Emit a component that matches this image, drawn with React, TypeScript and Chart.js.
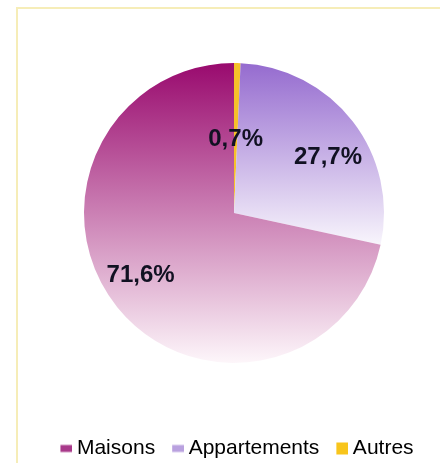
import React, { useEffect, useRef } from "react";
import { Chart, registerables } from "chart.js";

Chart.register(...registerables);

// Data (drawn clockwise from the top: Autres, Appartements, Maisons)
const categories = ["Autres", "Appartements", "Maisons"];
const values = [0.7, 27.7, 71.6];
const valueLabels = ["0,7%", "27,7%", "71,6%"];
const topColors = ["#f6c12a", "#956bcf", "#990a6e"];
const bottomColors = ["#f6c12a", "#f8f5fc", "#fdf6fa"];
const legendColors = ["#f8c51c", "#b9a1df", "#a8398a"];

const PIE_RADIUS = 150;

function sliceGradient(context: any) {
  const chart = context.chart;
  const i = context.dataIndex;
  const area = chart.chartArea;
  if (!area) return topColors[i];
  const cx = (area.left + area.right) / 2;
  const cy = (area.top + area.bottom) / 2;
  const total = values.reduce((a, b) => a + b, 0);
  let before = 0;
  for (let k = 0; k < i; k++) before += values[k];
  const a0 = -Math.PI / 2 + (before / total) * Math.PI * 2;
  const a1 = a0 + (values[i] / total) * Math.PI * 2;
  let ymin = cy;
  let ymax = cy;
  const steps = 360;
  for (let s = 0; s <= steps; s++) {
    const a = a0 + ((a1 - a0) * s) / steps;
    const y = cy + PIE_RADIUS * Math.sin(a);
    if (y < ymin) ymin = y;
    if (y > ymax) ymax = y;
  }
  const g = chart.ctx.createLinearGradient(0, ymin, 0, ymax);
  g.addColorStop(0, topColors[i]);
  g.addColorStop(1, bottomColors[i]);
  return g;
}

function markerImage(color: string, h: number) {
  const c = document.createElement("canvas");
  c.width = 24;
  c.height = 14;
  const x = c.getContext("2d")!;
  x.fillStyle = color;
  x.fillRect(12, (14 - h) / 2, 12, h);
  return c;
}

const valueLabelPlugin = {
  id: "valueLabels",
  afterDatasetsDraw(chart: any, _args: any, opts: any) {
    const meta = chart.getDatasetMeta(0);
    const ctx = chart.ctx;
    ctx.save();
    ctx.font = "bold 24px 'Liberation Sans', Arial, sans-serif";
    ctx.fillStyle = "#111122";
    ctx.textAlign = "center";
    ctx.textBaseline = "middle";
    meta.data.forEach((arc: any, i: number) => {
      const p = opts.placement[i];
      const mid = (arc.startAngle + arc.endAngle) / 2 + (p.rot * Math.PI) / 180;
      const d = arc.outerRadius * p.frac;
      ctx.fillText(valueLabels[i], arc.x + d * Math.cos(mid), arc.y + d * Math.sin(mid));
    });
    ctx.restore();
  },
};

export default function App() {
  const ref = useRef<HTMLCanvasElement>(null);
  useEffect(() => {
    if (!ref.current) return;
    const markers = [
      markerImage(legendColors[0], 12),
      markerImage(legendColors[1], 7),
      markerImage(legendColors[2], 7),
    ];
    const chart = new Chart(ref.current, {
      type: "pie",
      data: {
        labels: categories,
        datasets: [
          {
            data: values,
            backgroundColor: sliceGradient as any,
            borderWidth: 0,
            radius: PIE_RADIUS,
          } as any,
        ],
      },
      plugins: [valueLabelPlugin],
      options: {
        animation: false,
        responsive: false,
        maintainAspectRatio: false,
        layout: { padding: { top: 9, bottom: 1, left: 0, right: 0 } },
        plugins: {
          tooltip: { enabled: false },
          legend: {
            position: "bottom",
            reverse: true,
            labels: {
              usePointStyle: true,
              boxWidth: 12,
              padding: 11,
              color: "#1e1e24",
              font: { family: "'Liberation Sans', Arial, sans-serif", size: 21 },
              generateLabels: () =>
                categories.map((c, i) => ({
                  text: c,
                  fillStyle: legendColors[i],
                  strokeStyle: legendColors[i],
                  lineWidth: 0,
                  hidden: false,
                  index: i,
                  pointStyle: markers[i] as any,
                })),
            },
          },
          valueLabels: {
            placement: [
              { frac: 0.49, rot: 0 },
              { frac: 0.73, rot: 6.8 },
              { frac: 0.75, rot: 5 },
            ],
          },
        } as any,
      },
    });
    return () => chart.destroy();
  }, []);

  return (
    <div
      style={{
        position: "absolute",
        left: 0,
        top: 0,
        width: 440,
        height: 463,
        overflow: "hidden",
        background: "#ffffff",
      }}
    >
      <div
        style={{
          position: "absolute",
          left: 16,
          top: 7,
          width: 440,
          height: 470,
          border: "2px solid #f6edb8",
          boxSizing: "border-box",
        }}
      />
      <canvas
        ref={ref}
        width={468}
        height={480}
        style={{ position: "absolute", left: 0, top: -10, width: 468, height: 480 }}
      />
    </div>
  );
}
